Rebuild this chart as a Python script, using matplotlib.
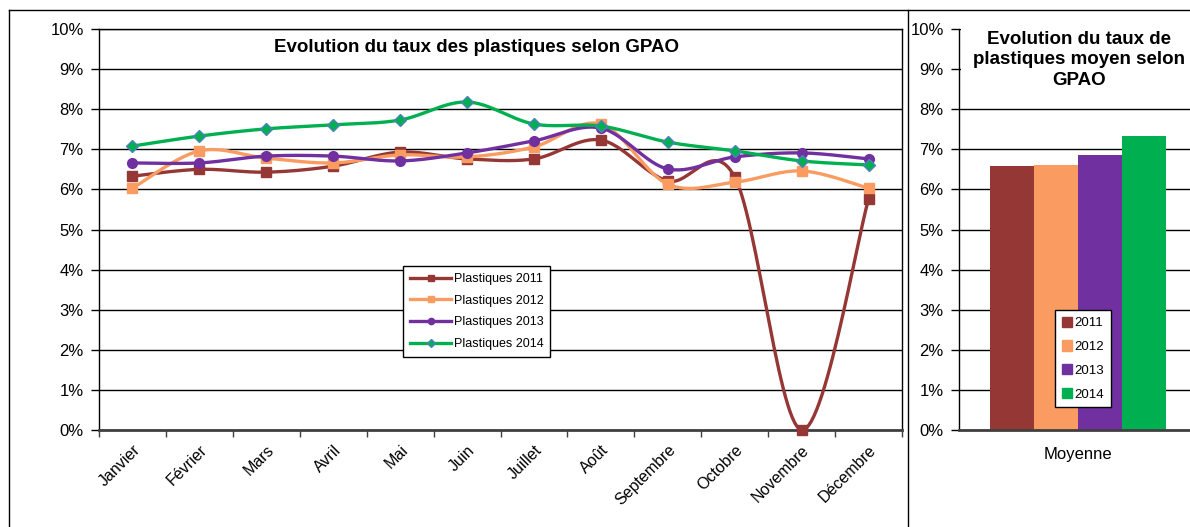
import numpy as np
import matplotlib
matplotlib.use("Agg")
import matplotlib.pyplot as plt
from matplotlib.lines import Line2D
from matplotlib.patches import Patch, Rectangle
from matplotlib.ticker import FuncFormatter, FixedLocator

plt.rcParams['font.family'] = ['Liberation Sans', 'DejaVu Sans']

# ---- données ----
mois = ["Janvier", "Février", "Mars", "Avril", "Mai", "Juin", "Juillet",
        "Août", "Septembre", "Octobre", "Novembre", "Décembre"]
p2011 = [6.33, 6.50, 6.43, 6.58, 6.93, 6.76, 6.76, 7.23, 6.21, 6.31, 0.00, 5.76]
p2012 = [6.03, 6.96, 6.78, 6.66, 6.86, 6.81, 7.06, 7.63, 6.13, 6.18, 6.46, 6.03]
p2013 = [6.66, 6.66, 6.83, 6.83, 6.71, 6.91, 7.21, 7.53, 6.51, 6.81, 6.91, 6.76]
p2014 = [7.08, 7.33, 7.51, 7.61, 7.73, 8.18, 7.63, 7.58, 7.18, 6.96, 6.71, 6.61]

annees = ["2011", "2012", "2013", "2014"]
moyennes = [6.58, 6.61, 6.86, 7.33]

couleurs = ["#953735", "#FA9C62", "#7030A0", "#00B050"]
marqueurs = ["s", "s", "o", "D"]
tailles = [7.5, 7.5, 7, 6.5]
bords = ["#953735", "#FA9C62", "#7030A0", "#4F81BD"]

W, H = 1190, 527


def lissage(x, y, n=30):
    # courbe lissée type Catmull-Rom passant par chaque point
    x = np.asarray(x, float)
    y = np.asarray(y, float)
    px = np.concatenate([[x[0]], x, [x[-1]]])
    py = np.concatenate([[y[0]], y, [y[-1]]])
    xs, ys = [], []
    t = np.linspace(0, 1, n)
    for i in range(1, len(px) - 2):
        for p, out in ((px, xs), (py, ys)):
            p0, p1, p2, p3 = p[i - 1], p[i], p[i + 1], p[i + 2]
            c1 = p1 + (p2 - p0) / 6
            c2 = p2 - (p3 - p1) / 6
            out.extend((1 - t) ** 3 * p1 + 3 * (1 - t) ** 2 * t * c1
                       + 3 * (1 - t) * t ** 2 * c2 + t ** 3 * p2)
    return np.array(xs), np.array(ys)


pct = FuncFormatter(lambda v, pos: f"{v:.0f}%")

fig = plt.figure(figsize=(W / 100, H / 100), dpi=100)

# cadres
for xs_, ys_ in (([9, W], [10, 10]), ([9, 9], [10, H]), ([908, 908], [10, H])):
    fig.add_artist(Line2D([v / W for v in xs_], [1 - v / H for v in ys_],
                          transform=fig.transFigure, color="black", lw=1))

y0, y1 = 1 - 430 / H, 1 - 29 / H

# ==================================================
# graphique mensuel
# ==================================================
ax = fig.add_axes([99 / W, y0, (902 - 99) / W, y1 - y0])
x = np.arange(len(mois))
series = [p2011, p2012, p2013, p2014]
for i, vals in enumerate(series):
    sx, sy = lissage(x, vals)
    ax.plot(sx, sy, color=couleurs[i], lw=2.4, zorder=3 + i)
    ax.plot(x, vals, ls="none", marker=marqueurs[i], ms=tailles[i],
            mfc=couleurs[i], mec=bords[i], mew=1, zorder=3 + i, clip_on=False)

ax.set_xlim(-0.5, len(mois) - 0.5)
ax.set_ylim(0, 10)
ax.yaxis.set_major_locator(FixedLocator(np.arange(0, 11, 1)))
ax.yaxis.set_major_formatter(pct)
ax.xaxis.set_major_locator(FixedLocator(np.arange(-0.5, len(mois), 1)))
ax.xaxis.set_major_formatter(FuncFormatter(lambda v, pos: ""))
ax.xaxis.set_minor_locator(FixedLocator(x))
ax.set_xticklabels(mois, minor=True, rotation=45, ha="right", va="top",
                   rotation_mode="anchor", fontsize=11.5)
ax.tick_params(axis="x", which="minor", length=0, pad=9)
ax.tick_params(axis="x", which="major", length=5, width=1, color="#404040")
ax.tick_params(axis="y", length=6, width=1, labelsize=12, pad=5)
ax.grid(axis="y", color="black", lw=1, zorder=0)
for s in ("top", "right", "left"):
    ax.spines[s].set_linewidth(1)
ax.spines["bottom"].set_color("#404040")
ax.spines["bottom"].set_linewidth(2)
ax.text(476 / W, 1 - 48 / H, "Evolution du taux des plastiques selon GPAO",
        transform=fig.transFigure, ha="center", va="center",
        fontsize=13.5, fontweight="bold")

poignees = [Line2D([0], [0], color=couleurs[i], lw=2.4, marker=marqueurs[i],
                   ms=4.5, mfc=couleurs[i], mec=bords[i])
            for i in range(4)]
leg = ax.legend(poignees, ["Plastiques " + a for a in annees],
                loc="upper left", bbox_to_anchor=((403 - 99) / 803, (430 - 266) / 401),
                fontsize=9, frameon=True, fancybox=False, edgecolor="black",
                framealpha=1, handlelength=3.3, handletextpad=0.2,
                labelspacing=0.78, borderpad=0.55, borderaxespad=0)
leg.get_frame().set_linewidth(1)
leg.set_zorder(10)

# ==================================================
# graphique des moyennes
# ==================================================
ax2 = fig.add_axes([959 / W, y0, 238 / W, y1 - y0])
larg = 44 / 238
decal = (np.arange(4) - 1.5) * larg
for i in range(4):
    ax2.bar(decal[i], moyennes[i], width=larg, color=couleurs[i], zorder=2)
ax2.set_xlim(-0.5, 0.5)
ax2.set_ylim(0, 10)
ax2.yaxis.set_major_locator(FixedLocator(np.arange(0, 11, 1)))
ax2.yaxis.set_major_formatter(pct)
ax2.set_xticks([0])
ax2.set_xticklabels(["Moyenne"], fontsize=12)
ax2.tick_params(axis="x", length=0, pad=12)
ax2.tick_params(axis="y", length=6, width=1, labelsize=12, pad=5)
ax2.grid(axis="y", color="black", lw=1, zorder=0)
ax2.spines["top"].set_visible(False)
ax2.spines["right"].set_visible(False)
ax2.spines["left"].set_linewidth(1)
ax2.spines["bottom"].set_color("#404040")
ax2.spines["bottom"].set_linewidth(2)

# fond blanc derrière le titre (masque le quadrillage du haut)
fig.add_artist(Rectangle((961 / W, 1 - 93 / H), (W - 961) / W, 70 / H,
                         transform=fig.transFigure, facecolor="white",
                         edgecolor="none", zorder=4))
fig.text(1079 / W, 1 - 60 / H,
         "Evolution du taux de\nplastiques moyen selon\nGPAO",
         ha="center", va="center", fontsize=13.5, fontweight="bold",
         linespacing=1.3, zorder=5)

leg2 = ax2.legend([Patch(color=c) for c in couleurs], annees,
                  loc="upper left", bbox_to_anchor=((1055 - 959) / 238, (430 - 310) / 401),
                  fontsize=9.5, frameon=True, fancybox=False, edgecolor="black",
                  framealpha=1, handlelength=0.8, handleheight=0.8,
                  handletextpad=0.2, labelspacing=0.85, borderpad=0.5,
                  borderaxespad=0)
leg2.get_frame().set_linewidth(1)

fig.savefig("out.png", dpi=100)
